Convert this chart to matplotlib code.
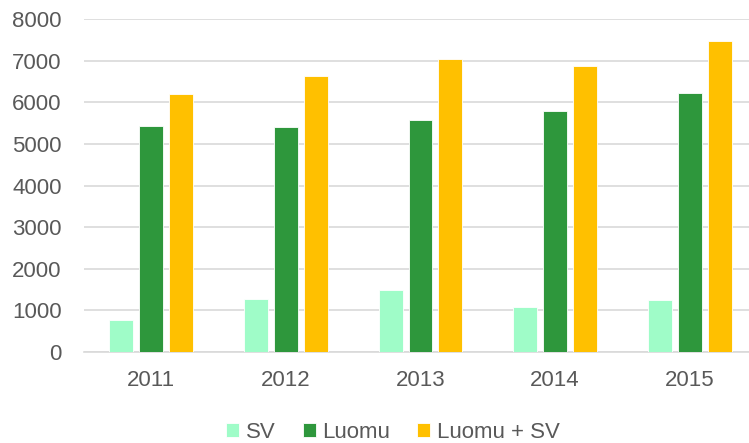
import matplotlib.pyplot as plt
import numpy as np

plt.rcParams['font.family'] = ['Liberation Sans', 'DejaVu Sans']

years = ["2011", "2012", "2013", "2014", "2015"]
sv = [767, 1271, 1487, 1087, 1247]
luomu = [5427, 5396, 5564, 5779, 6218]
luomu_sv = [6204, 6619, 7050, 6875, 7475]

series = [("SV", sv, "#9ffcc8"), ("Luomu", luomu, "#2e973c"), ("Luomu + SV", luomu_sv, "#ffc000")]

fig = plt.figure(figsize=(7.49, 4.43), dpi=100)
W, H = 749, 443
ax = fig.add_axes([84 / W, (H - 352) / H, 673 / W, (352 - 19) / H])

x = np.arange(len(years))
width = 0.178
offsets = [-0.222, 0, 0.222]
for (name, vals, color), off in zip(series, offsets):
    ax.bar(x + off, vals, width, color=color, label=name, zorder=3,
           edgecolor="white", linewidth=0.6)

ax.set_xlim(-0.5, len(years) - 0.5)
ax.set_ylim(0, 8000)
ax.set_yticks(range(0, 8001, 1000))
ax.set_xticks(x)
ax.set_xticklabels(years)
ax.yaxis.grid(True, color="#d9d9d9", linewidth=1.2, zorder=0)
ax.set_axisbelow(True)
for s in ["top", "right", "left"]:
    ax.spines[s].set_visible(False)
ax.spines["bottom"].set_color("#d9d9d9")
ax.spines["bottom"].set_linewidth(1.2)
ax.tick_params(axis="both", length=0, labelsize=16, colors="#595959")
ax.tick_params(axis="x", pad=13)
ax.tick_params(axis="y", pad=16)

leg = fig.legend(loc="center", bbox_to_anchor=(393 / W, (H - 432) / H), ncol=3,
                 frameon=False, fontsize=16, handlelength=0.6, handleheight=0.6,
                 handletextpad=0.3, columnspacing=1.2)
for t in leg.get_texts():
    t.set_color("#595959")

fig.savefig("out.png", dpi=100)
